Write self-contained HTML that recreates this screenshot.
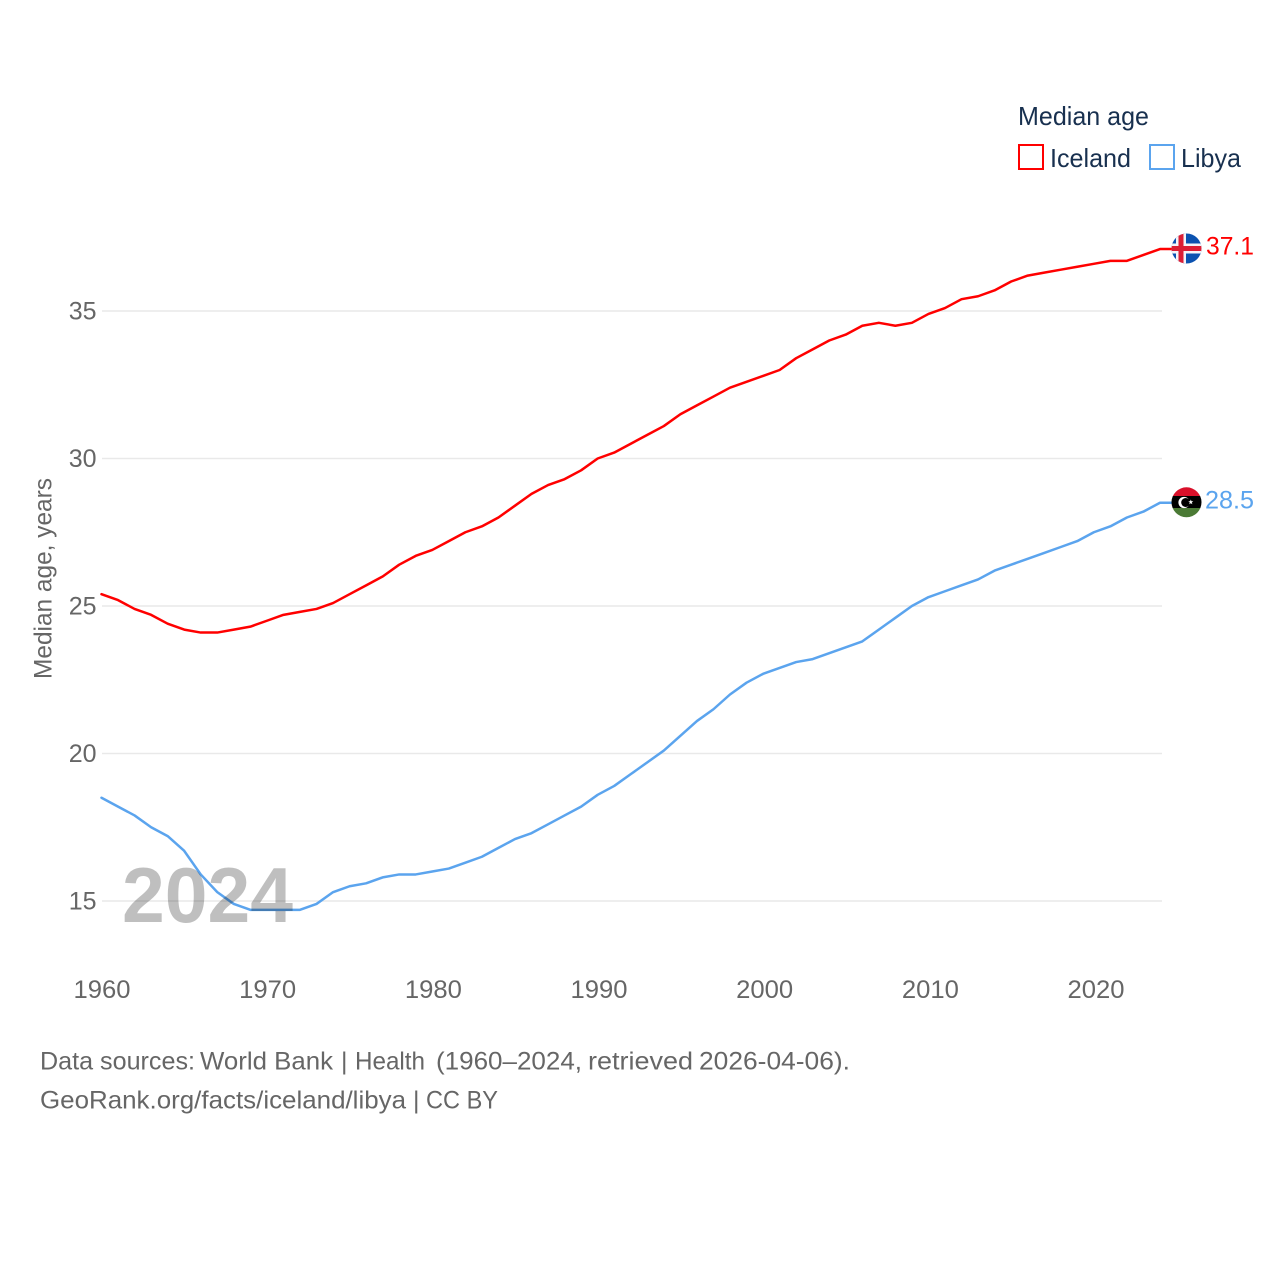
<!DOCTYPE html>
<html lang="en">
<head>
<meta charset="utf-8">
<title>Median age: Iceland and Libya</title>
<style>
html,body{margin:0;padding:0;background:#fff;width:1280px;height:1280px;overflow:hidden}
svg{display:block;font-family:"Liberation Sans",sans-serif}
</style>
</head>
<body>
<svg id="chart" width="1280" height="1280" viewBox="0 0 1280 1280" xmlns="http://www.w3.org/2000/svg">
  <defs>
    <clipPath id="flag-clip-iceland"><circle cx="1186.500" cy="248.500" r="15"></circle></clipPath>
    <clipPath id="flag-clip-libya"><circle cx="1186.500" cy="502.300" r="15"></circle></clipPath>
  </defs>
  <rect width="1280" height="1280" fill="#fff"></rect>
  <g id="grid"></g>
  <g id="y-axis"></g>
  <g id="x-axis"></g>
  <text transform="translate(51.500,578.500) rotate(-90)" text-anchor="middle" font-size="25" fill="#666" textLength="201" lengthAdjust="spacingAndGlyphs">Median age, years</text>
  <g id="series"></g>
  <text x="122" y="922" font-size="78" font-weight="700" fill="#000" fill-opacity="0.25" textLength="171" lengthAdjust="spacingAndGlyphs">2024</text>

  <g id="flag-iceland" clip-path="url(#flag-clip-iceland)">
    <rect x="1171" y="233" width="31" height="31" fill="#0b52b0"></rect>
    <rect x="1176" y="233" width="10" height="31" fill="#f4f4f8"></rect>
    <rect x="1171" y="243.500" width="31" height="10" fill="#f4f4f8"></rect>
    <rect x="1178.500" y="233" width="5" height="31" fill="#dc1e35"></rect>
    <rect x="1171" y="246" width="31" height="5" fill="#dc1e35"></rect>
  </g>
  <g id="flag-libya" clip-path="url(#flag-clip-libya)">
    <rect x="1171" y="487" width="31" height="9" fill="#d9102a"></rect>
    <rect x="1171" y="496" width="31" height="12" fill="#000"></rect>
    <rect x="1171" y="508" width="31" height="10" fill="#4b7a35"></rect>
    <circle cx="1184" cy="502.500" r="5.600" fill="#fff"></circle>
    <circle cx="1185.700" cy="502.500" r="4.500" fill="#000"></circle>
    <polygon points="1190.800,499.500 1191.500,501.300 1193.300,501.300 1191.800,502.500 1192.400,504.300 1190.800,503.200 1189.200,504.300 1189.800,502.500 1188.300,501.300 1190.100,501.300" fill="#fff"></polygon>
  </g>
  <text id="value-iceland" x="1206" y="254.500" font-size="25" fill="#ff0000" textLength="48" lengthAdjust="spacingAndGlyphs">37.1</text>
  <text id="value-libya" x="1205" y="508.500" font-size="25" fill="#5ba4ee" textLength="49" lengthAdjust="spacingAndGlyphs">28.5</text>

  <g>
    <text x="1018" y="125" font-size="26" fill="#18304f" textLength="131" lengthAdjust="spacingAndGlyphs">Median age</text>
    <rect x="1019" y="145" width="24" height="24" fill="none" stroke="#ff0000" stroke-width="2"></rect>
    <text x="1050" y="167" font-size="26" fill="#18304f" textLength="81" lengthAdjust="spacingAndGlyphs">Iceland</text>
    <rect x="1150" y="145" width="24" height="24" fill="none" stroke="#5ba4ee" stroke-width="2"></rect>
    <text x="1181" y="167" font-size="26" fill="#18304f" textLength="60" lengthAdjust="spacingAndGlyphs">Libya</text>
  </g>

  <g font-size="25" fill="#666">
    <text y="1069.500"><tspan x="40" textLength="155" lengthAdjust="spacingAndGlyphs">Data sources:</tspan> <tspan x="200" textLength="133" lengthAdjust="spacingAndGlyphs">World Bank</tspan> <tspan x="341">|</tspan> <tspan x="355" textLength="70" lengthAdjust="spacingAndGlyphs">Health</tspan> <tspan x="436" textLength="146" lengthAdjust="spacingAndGlyphs">(1960–2024,</tspan> <tspan x="588" textLength="105" lengthAdjust="spacingAndGlyphs">retrieved</tspan> <tspan x="699" textLength="151" lengthAdjust="spacingAndGlyphs">2026-04-06).</tspan></text>
    <text y="1108.500"><tspan x="40" textLength="366" lengthAdjust="spacingAndGlyphs">GeoRank.org/facts/iceland/libya</tspan> <tspan x="413">|</tspan> <tspan x="426" textLength="72" lengthAdjust="spacingAndGlyphs">CC BY</tspan></text>
  </g>
</svg>
<script>
const years = [1960,1961,1962,1963,1964,1965,1966,1967,1968,1969,1970,1971,1972,1973,1974,1975,1976,1977,1978,1979,1980,1981,1982,1983,1984,1985,1986,1987,1988,1989,1990,1991,1992,1993,1994,1995,1996,1997,1998,1999,2000,2001,2002,2003,2004,2005,2006,2007,2008,2009,2010,2011,2012,2013,2014,2015,2016,2017,2018,2019,2020,2021,2022,2023,2024];
const icelandValues = [25.4,25.2,24.9,24.7,24.4,24.2,24.1,24.1,24.2,24.3,24.5,24.7,24.8,24.9,25.1,25.4,25.7,26.0,26.4,26.7,26.9,27.2,27.5,27.7,28.0,28.4,28.8,29.1,29.3,29.6,30.0,30.2,30.5,30.8,31.1,31.5,31.8,32.1,32.4,32.6,32.8,33.0,33.4,33.7,34.0,34.2,34.5,34.6,34.5,34.6,34.9,35.1,35.4,35.5,35.7,36.0,36.2,36.3,36.4,36.5,36.6,36.7,36.7,36.9,37.1];
const libyaValues = [18.5,18.2,17.9,17.5,17.2,16.7,15.9,15.3,14.9,14.7,14.7,14.7,14.7,14.9,15.3,15.5,15.6,15.8,15.9,15.9,16.0,16.1,16.3,16.5,16.8,17.1,17.3,17.6,17.9,18.2,18.6,18.9,19.3,19.7,20.1,20.6,21.1,21.5,22.0,22.4,22.7,22.9,23.1,23.2,23.4,23.6,23.8,24.2,24.6,25.0,25.3,25.5,25.7,25.9,26.2,26.4,26.6,26.8,27.0,27.2,27.5,27.7,28.0,28.2,28.5];
const yTicks = [15,20,25,30,35];
const xTicks = [1960,1970,1980,1990,2000,2010,2020];

const NS = 'http://www.w3.org/2000/svg';
const xScale = function (year) { return 101.5 + (year - 1960) * (1058.5 / 64); };
const xLabelScale = function (year) { return 102 + (year - 1960) * (994 / 60); };
const yScale = function (value) { return 901 - (value - 15) * 29.5; };

function make(tag, parent, attrs, text) {
  const el = document.createElementNS(NS, tag);
  Object.keys(attrs).forEach(function (k) { el.setAttribute(k, attrs[k]); });
  if (text !== undefined) el.textContent = text;
  parent.appendChild(el);
  return el;
}

const gridG = document.getElementById('grid');
const yG = document.getElementById('y-axis');
yTicks.forEach(function (t) {
  const line = make('line', gridG, { x1: 102, x2: 1162, y1: yScale(t), y2: yScale(t), stroke: '#e9e9e9', 'stroke-width': 1.5 });
  
  
  const label = make('text', yG, { x: 96.5, y: yScale(t) + 8.5, 'text-anchor': 'end', 'font-size': 25, fill: '#666' }, String(t));
  
  
});

const xG = document.getElementById('x-axis');
xTicks.forEach(function (t) {
  const label = make('text', xG, { x: xLabelScale(t), y: 998, 'text-anchor': 'middle', 'font-size': 25, fill: '#666', textLength: 57, lengthAdjust: 'spacingAndGlyphs' }, String(t));
  
  
});

const seriesG = document.getElementById('series');
function drawSeries(values, color, name) {
  const pts = values.map(function (v, i) { return xScale(years[i]).toFixed(2) + ',' + yScale(v).toFixed(2); });
  const lastY = yScale(values[values.length - 1]);
  pts.push('1172,' + lastY.toFixed(2));
  const line = make('polyline', seriesG, { points: pts.join(' '), fill: 'none', stroke: color, 'stroke-width': 2.5, 'stroke-linejoin': 'round', 'stroke-linecap': 'round' });
  
  
  return lastY;
}
const icelandEndY = drawSeries(icelandValues, '#ff0000', 'iceland-line');
const libyaEndY = drawSeries(libyaValues, '#5ba4ee', 'libya-line');

function placeEnd(flagId, valueId, endY, value, baseY) {
  const dy = endY - baseY;
  document.getElementById(flagId).setAttribute('transform', 'translate(0,' + dy.toFixed(2) + ')');
  document.getElementById(valueId).setAttribute('y', (endY + 5.6).toFixed(2));
  document.getElementById(valueId).textContent = value.toFixed(1);
}
placeEnd('flag-iceland', 'value-iceland', icelandEndY, icelandValues[icelandValues.length - 1], yScale(37.1));
placeEnd('flag-libya', 'value-libya', libyaEndY, libyaValues[libyaValues.length - 1], yScale(28.5));
</script>
</body>
</html>
